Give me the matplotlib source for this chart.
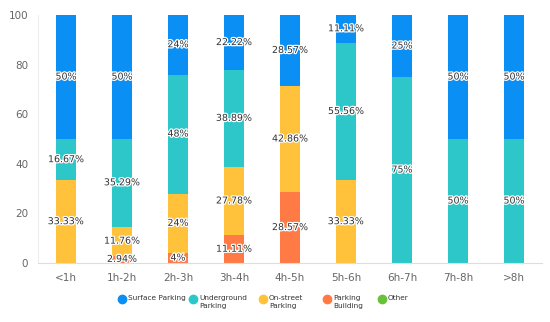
import numpy as np
import matplotlib; matplotlib.use("Agg")
import matplotlib.pyplot as plt
import matplotlib.patheffects as pe
from matplotlib.lines import Line2D

categories  = ["<1h", "1h-2h", "2h-3h", "3h-4h", "4h-5h", "5h-6h", "6h-7h", "7h-8h", ">8h"]
building    = [0, 2.94, 4, 11.11, 28.57, 0, 0, 0, 0]
on_street   = [33.33, 11.76, 24, 27.78, 42.86, 33.33, 0, 0, 0]
underground = [16.67, 35.29, 48, 38.89, 0, 55.56, 75, 50, 50]
surface     = [50, 50, 24, 22.22, 28.57, 11.11, 25, 50, 50]
other       = [0, 0, 0, 0, 0, 0, 0, 0, 0]
y_ticks     = [0, 20, 40, 60, 80, 100]

series = [("Parking\nBuilding", building, "#FF7A45"),
          ("On-street\nParking", on_street, "#FFC23A"),
          ("Underground\nParking", underground, "#2EC7C9"),
          ("Surface Parking", surface, "#0A8FF5"),
          ("Other", other, "#67C23A")]

fig = plt.figure(figsize=(5.5, 3.22), dpi=100)
ax = fig.add_axes([38/550, 59/322, 504/550, 248/322])
x = np.arange(len(categories))
bottom = np.zeros(len(categories))
stroke = [pe.withStroke(linewidth=1.8, foreground="white")]
for name, vals, col in series:
    vals = np.array(vals, dtype=float)
    ax.bar(x, vals, bottom=bottom, width=20/56, color=col, zorder=2)
    for i, v in enumerate(vals):
        if v > 0:
            ax.text(x[i], bottom[i] + v/2, f"{v:g}%", ha="center", va="center",
                    fontsize=6.8, color="#333333", path_effects=stroke, zorder=3)
    bottom += vals

ax.set_xlim(-0.5, len(categories) - 0.5)
ax.set_ylim(0, 100)
ax.set_yticks(y_ticks)
ax.set_xticks(x)
ax.set_xticklabels(categories)
ax.tick_params(axis="both", length=0, labelsize=7.5, colors="#666666")
ax.tick_params(axis="y", pad=7)
ax.tick_params(axis="x", pad=7)
for s in ["top", "right"]:
    ax.spines[s].set_visible(False)
ax.spines["left"].set_color("#eeeeee")
ax.spines["bottom"].set_color("#dddddd")

# legend drawn by hand
leg = [("Surface Parking", "#0A8FF5", 122), ("Underground\nParking", "#2EC7C9", 193),
       ("On-street\nParking", "#FFC23A", 263), ("Parking\nBuilding", "#FF7A45", 327),
       ("Other", "#67C23A", 382)]
for name, col, px in leg:
    fig.add_artist(Line2D([px/550], [1 - 299/322], marker="o", markersize=6,
                          color=col, linestyle="none", transform=fig.transFigure))
    fig.text((px + 6)/550, 1 - 295/322, name, ha="left", va="top",
             fontsize=5.3, color="#333333", linespacing=1.35)

fig.savefig("out.png", dpi=100)
